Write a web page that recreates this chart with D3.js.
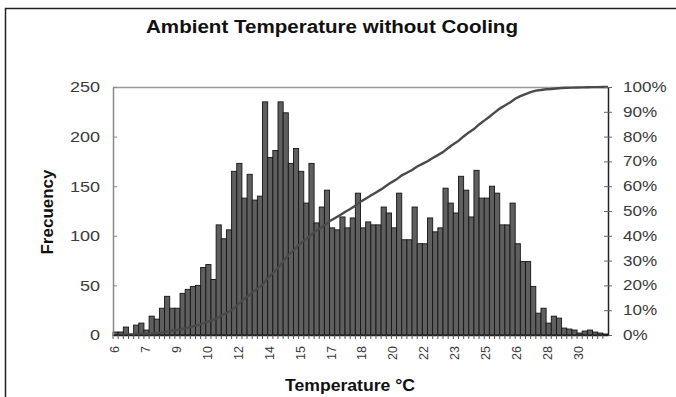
<!DOCTYPE html>
<html>
<head>
<meta charset="utf-8">
<script src="https://cdn.jsdelivr.net/npm/d3@7"></script>
<style>
  body { margin: 0; background: #fff; }
  svg text { font-family: Arial, "Liberation Sans", sans-serif; }
</style>
</head>
<body>
<div id="chart"></div>
<script>
// frequency of each temperature bin
var frequency = [3, 3, 8, 1, 10, 12, 5, 19, 16, 27, 39, 27, 27, 42, 46, 49, 50, 68, 71, 56,
    111, 97, 106, 165, 173, 138, 162, 136, 140, 235, 179, 186, 235,
    224, 173, 188, 165, 133, 173, 113, 129, 146, 108, 106, 119, 108, 118, 143, 108, 114,
    111, 111, 129, 123, 108, 143, 96, 96, 129, 92, 92, 118, 104, 108,
    148, 133, 123, 160, 146, 119, 166, 138, 138, 150, 143, 111, 111, 133, 92, 74, 74, 49,
    22, 27, 12, 19, 17, 7, 6, 5, 2, 4, 5, 3, 2, 1];

// category labels shown under the axis, one every 6 bins
var tickLabels = ["6", "7", "9", "10", "12", "14", "15", "17", "18", "20", "22", "23", "25", "26", "28", "30"];
var labelEvery = 6;

var freqTicks = [0, 50, 100, 150, 200, 250];
var pctTicks = [0, 0.1, 0.2, 0.3, 0.4, 0.5, 0.6, 0.7, 0.8, 0.9, 1];

function draw_chart(element) {
    var svg = d3.select("#" + element).append("svg").attr("width", 676).attr("height", 397),
        margin = {top: 87, right: 68, bottom: 62, left: 113},
        width = 676 - margin.left - margin.right,
        height = 397 - margin.top - margin.bottom;

    // outer frame
    svg.append("rect")
        .attr("x", 5.5).attr("y", 8.5)
        .attr("width", 700).attr("height", 400)
        .attr("fill", "none").attr("stroke", "#222").attr("stroke-width", 1.5);

    svg.append("text")
        .attr("x", 332).attr("y", 33)
        .attr("text-anchor", "middle")
        .attr("font-size", 18).attr("font-weight", "bold").attr("fill", "#111")
        .attr("textLength", 372).attr("lengthAdjust", "spacingAndGlyphs")
        .text("Ambient Temperature without Cooling");

    var idx = d3.range(frequency.length);
    var x = d3.scaleBand().domain(idx).range([0, width]).padding(0);
    var y = d3.scaleLinear().domain([0, 250]).range([height, 0]);
    var y2 = d3.scaleLinear().domain([0, 1]).range([height, 0]);

    var g = svg.append("g")
        .attr("transform", "translate(" + margin.left + "," + margin.top + ")");

    // plot area top border
    g.append("line")
        .attr("x1", 0).attr("x2", width).attr("y1", 0.5).attr("y2", 0.5)
        .attr("stroke", "#999").attr("stroke-width", 1.5);

    g.selectAll(".bar")
        .data(frequency)
        .enter().append("rect")
        .attr("class", "bar")
        .attr("x", function (d, i) { return x(i); })
        .attr("width", x.bandwidth())
        .attr("y", function (d) { return y(d); })
        .attr("height", function (d) { return height - y(d); })
        .attr("fill", "#5f5f5f")
        .attr("stroke", "#151515")
        .attr("stroke-width", 0.9);

    // cumulative share, derived from the frequencies
    var total = d3.sum(frequency);
    var cum = Array.from(d3.cumsum(frequency), function (v) { return v / total; });
    var line = d3.line()
        .x(function (d, i) { return x(i) + x.bandwidth(); })
        .y(function (d) { return y2(d); });
    g.append("path")
        .datum(cum)
        .attr("d", line)
        .attr("fill", "none")
        .attr("stroke", "#4a4a4a")
        .attr("stroke-width", 2.4);

    // left axis
    var ax = g.append("g")
        .attr("class", "y axis")
        .call(d3.axisLeft(y).tickValues(freqTicks).tickSizeOuter(0).tickSizeInner(4));
    ax.select(".domain").attr("stroke", "#888").attr("stroke-width", 1.5);
    ax.selectAll(".tick line").attr("x2", 4).attr("stroke", "#888");
    ax.selectAll(".tick text")
        .attr("font-size", 15).attr("fill", "#3a3a3a").attr("font-family", "Arial, Liberation Sans, sans-serif")
        .attr("x", -13 / 1.2).attr("transform", "scale(1.2,1)");

    // right axis
    var ar = g.append("g")
        .attr("class", "y2 axis")
        .attr("transform", "translate(" + width + ",0)")
        .call(d3.axisRight(y2).tickValues(pctTicks).tickFormat(d3.format(".0%")).tickSizeOuter(0).tickSizeInner(4));
    ar.select(".domain").attr("stroke", "#222").attr("stroke-width", 1.5);
    ar.selectAll(".tick line").attr("x1", -4).attr("stroke", "#666");
    ar.selectAll(".tick text")
        .attr("font-size", 14).attr("fill", "#3a3a3a").attr("font-family", "Arial, Liberation Sans, sans-serif")
        .attr("x", 15 / 1.22).attr("transform", "scale(1.22,1)");

    // bottom axis
    var axb = g.append("g")
        .attr("class", "x axis")
        .attr("transform", "translate(0," + height + ")")
        .call(d3.axisBottom(x).tickSizeOuter(0).tickSizeInner(4).tickFormat(function (d) {
            return d % labelEvery === 0 ? tickLabels[d / labelEvery] : "";
        }));
    axb.select(".domain").attr("stroke", "#222").attr("stroke-width", 1.5);
    axb.selectAll(".tick line").attr("stroke", "#555").attr("transform", "translate(" + (-x.bandwidth() / 2) + ",0)");
    axb.selectAll(".tick text")
        .attr("font-size", 12.5).attr("fill", "#3a3a3a").attr("font-family", "Arial, Liberation Sans, sans-serif")
        .attr("y", 0).attr("dy", "0.35em")
        .attr("text-anchor", "end")
        .attr("transform", "translate(-1,11) rotate(-90)");

    // axis titles
    svg.append("text")
        .attr("transform", "translate(53,212) rotate(-90)")
        .attr("text-anchor", "middle")
        .attr("font-size", 17).attr("font-weight", "bold").attr("fill", "#111")
        .text("Frecuency");

    svg.append("text")
        .attr("x", 350).attr("y", 391)
        .attr("text-anchor", "middle")
        .attr("font-size", 16).attr("font-weight", "bold").attr("fill", "#111")
        .attr("textLength", 130).attr("lengthAdjust", "spacingAndGlyphs")
        .text("Temperature \u00B0C");
}

draw_chart("chart");
</script>
</body>
</html>
